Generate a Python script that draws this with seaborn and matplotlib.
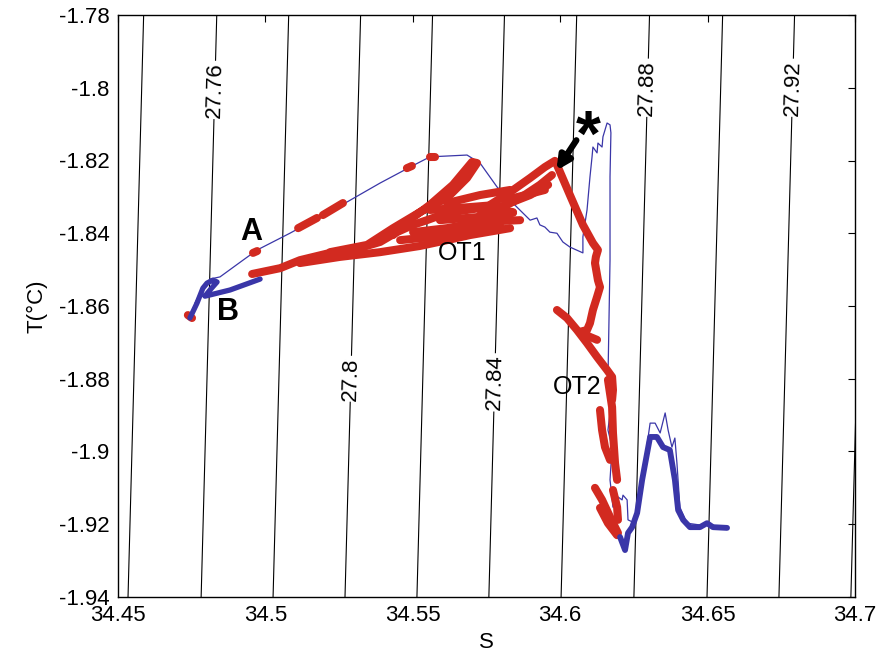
import seaborn as sns
import matplotlib.pyplot as plt
import numpy as np

# isopycnals (sigma levels) and their salinity at the bottom / top of the plot
sigma_levels = [27.74, 27.76, 27.78, 27.80, 27.82, 27.84, 27.86, 27.88, 27.90, 27.92, 27.94]
iso_s_bottom = [34.4534, 34.4782, 34.5026, 34.5270, 34.5514, 34.5758, 34.6003, 34.6250, 34.6498, 34.6742, 34.6986]
iso_s_top = [34.4587, 34.4835, 34.5079, 34.5323, 34.5567, 34.5811, 34.6056, 34.6303, 34.6551, 34.6795, 34.7039]
iso_t_range = [-1.94, -1.78]
iso_label_levels = ["27.76", "27.8", "27.84", "27.88", "27.92"]
iso_label_t = [-1.8006, -1.880, -1.881, -1.800, -1.800]

x_ticks = [34.45, 34.5, 34.55, 34.6, 34.65, 34.7]
x_ticklabels = ["34.45", "34.5", "34.55", "34.6", "34.65", "34.7"]
y_ticks = [-1.94, -1.92, -1.9, -1.88, -1.86, -1.84, -1.82, -1.8, -1.78]
y_ticklabels = ["-1.94", "-1.92", "-1.9", "-1.88", "-1.86", "-1.84", "-1.82", "-1.8", "-1.78"]

# thin blue trace
blue_thin_s = [34.4761, 34.4788, 34.4812, 34.4846, 34.4924, 34.4972, 34.5083, 34.5185, 34.5277, 34.5389,
               34.5491, 34.5558, 34.5684, 34.5728, 34.5786, 34.5853, 34.5898, 34.5921, 34.5931, 34.5948,
               34.5965, 34.5989, 34.6009, 34.6033, 34.6077, 34.6077, 34.6091, 34.6101, 34.6108, 34.6111,
               34.6125, 34.6128, 34.6142, 34.6145, 34.6152, 34.6159, 34.6169, 34.6172, 34.6169, 34.6169,
               34.6162, 34.6169, 34.6162, 34.6176, 34.6169, 34.6179, 34.6196, 34.6210, 34.6213, 34.6227,
               34.6230, 34.6254, 34.6261, 34.6281, 34.6305, 34.6322, 34.6339, 34.6356, 34.6366, 34.6379,
               34.6389, 34.6396, 34.6406, 34.6430, 34.6474, 34.6498, 34.6518, 34.6542, 34.6569]
blue_thin_t = [-1.8592, -1.8548, -1.8526, -1.8520, -1.8474, -1.8446, -1.8400, -1.8355, -1.8314, -1.8262,
               -1.8218, -1.8190, -1.8185, -1.8207, -1.8273, -1.8328, -1.8364, -1.8358, -1.8377, -1.8383,
               -1.8397, -1.8400, -1.8424, -1.8438, -1.8454, -1.8410, -1.8336, -1.8245, -1.8190, -1.8163,
               -1.8179, -1.8152, -1.8163, -1.8135, -1.8116, -1.8097, -1.8102, -1.8124, -1.8245, -1.8474,
               -1.8803, -1.8894, -1.8941, -1.8988, -1.9078, -1.9153, -1.9125, -1.9133, -1.9120, -1.9133,
               -1.9188, -1.9197, -1.9153, -1.9059, -1.8922, -1.8922, -1.8949, -1.8894, -1.8941, -1.8988,
               -1.8963, -1.9032, -1.9153, -1.9197, -1.9202, -1.9197, -1.9202, -1.9210, -1.9208]

# thick blue parts (B end and deep hump)
blue_b_s = [34.4744, 34.4768, 34.4788, 34.4802, 34.4822, 34.4836, 34.4812, 34.4795, 34.4880, 34.4982]
blue_b_t = [-1.8633, -1.8592, -1.8551, -1.8537, -1.8529, -1.8534, -1.8556, -1.8573, -1.8556, -1.8526]
blue_hump_s = [34.6203, 34.6220, 34.6230, 34.6244, 34.6261, 34.6278, 34.6305, 34.6328, 34.6349, 34.6372,
               34.6389, 34.6400, 34.6417, 34.6440, 34.6474, 34.6498, 34.6518, 34.6566]
blue_hump_t = [-1.9235, -1.9271, -1.9224, -1.9208, -1.9169, -1.9078, -1.8960, -1.8960, -1.8988, -1.8996,
               -1.9078, -1.9161, -1.9188, -1.9208, -1.9208, -1.9197, -1.9208, -1.9210]

# red (overturn) pieces
red_a1_s, red_a1_t = [34.4958, 34.4972], [-1.8454, -1.8449]
red_a2_s, red_a2_t = [34.5111, 34.5175], [-1.8386, -1.8358]
red_a3_s, red_a3_t = [34.5195, 34.5263], [-1.8350, -1.8317]
red_a4_s, red_a4_t = [34.5480, 34.5497], [-1.8221, -1.8215]
red_a5_s, red_a5_t = [34.5558, 34.5575], [-1.8190, -1.8190]
red_dot_s, red_dot_t = [34.4737, 34.4751], [-1.8625, -1.8633]

red_band1_s = [34.4955, 34.5050, 34.5117, 34.5219, 34.5297, 34.5389, 34.5446, 34.5501, 34.5548, 34.5616,
               34.5684, 34.5752, 34.5840]
red_band1_t = [-1.8512, -1.8496, -1.8474, -1.8454, -1.8446, -1.8424, -1.8397, -1.8377, -1.8364, -1.8344,
               -1.8336, -1.8328, -1.8342]
red_band2_s = [34.5117, 34.5253, 34.5389, 34.5524, 34.5616, 34.5694, 34.5830]
red_band2_t = [-1.8482, -1.8465, -1.8452, -1.8435, -1.8419, -1.8405, -1.8386]
red_peak_s = [34.5219, 34.5345, 34.5433, 34.5524, 34.5616, 34.5684, 34.5718, 34.5701, 34.5636, 34.5558,
              34.5480, 34.5433]
red_peak_t = [-1.8452, -1.8432, -1.8386, -1.8342, -1.8303, -1.8248, -1.8207, -1.8204, -1.8267, -1.8322,
              -1.8369, -1.8405]
red_ot1a_s, red_ot1a_t = [34.5558, 34.5694, 34.5786], [-1.8336, -1.8328, -1.8322]
red_ot1b_s, red_ot1b_t = [34.5592, 34.5728, 34.5840], [-1.8364, -1.8355, -1.8344]
red_ot1c_s, red_ot1c_t = [34.5616, 34.5728, 34.5830], [-1.8317, -1.8295, -1.8281]
red_ot1d_s, red_ot1d_t = [34.5501, 34.5616, 34.5728, 34.5864], [-1.8397, -1.8386, -1.8369, -1.8364]
red_ot1e_s, red_ot1e_t = [34.5457, 34.5592, 34.5694, 34.5796], [-1.8419, -1.8408, -1.8391, -1.8380]
red_c1_s = [34.5762, 34.5830, 34.5898, 34.5948, 34.5982]
red_c1_t = [-1.8322, -1.8287, -1.8248, -1.8218, -1.8201]
red_c2_s = [34.5786, 34.5864, 34.5931, 34.5972]
red_c2_t = [-1.8336, -1.8303, -1.8267, -1.8240]
red_c3_s = [34.5813, 34.5881, 34.5948]
red_c3_t = [-1.8309, -1.8295, -1.8281]
red_c4_s = [34.5728, 34.5813, 34.5898, 34.5959]
red_c4_t = [-1.8350, -1.8322, -1.8295, -1.8267]
red_down_s = [34.5989, 34.6033, 34.6077, 34.6111, 34.6128, 34.6121, 34.6118, 34.6128, 34.6135, 34.6125,
              34.6111, 34.6101, 34.6091, 34.6067, 34.6101, 34.6125]
red_down_t = [-1.8212, -1.8295, -1.8377, -1.8427, -1.8446, -1.8465, -1.8482, -1.8529, -1.8548, -1.8575,
              -1.8611, -1.8647, -1.8666, -1.8671, -1.8685, -1.8693]
red_diag_s = [34.5989, 34.6023, 34.6057, 34.6091, 34.6125, 34.6159, 34.6176, 34.6179, 34.6176]
red_diag_t = [-1.8611, -1.8633, -1.8666, -1.8702, -1.8740, -1.8776, -1.8795, -1.8831, -1.8858]
red_d1_s, red_d1_t = [34.6162, 34.6176, 34.6179, 34.6186, 34.6193], [-1.8803, -1.8878, -1.8949, -1.9032, -1.9078]
red_d2_s, red_d2_t = [34.6135, 34.6142, 34.6152, 34.6169], [-1.8886, -1.8941, -1.8988, -1.9023]
red_d3_s, red_d3_t = [34.6118, 34.6142, 34.6169, 34.6196], [-1.9100, -1.9133, -1.9180, -1.9224]
red_d4_s, red_d4_t = [34.6135, 34.6162, 34.6193], [-1.9155, -1.9197, -1.9230]
red_d5_s, red_d5_t = [34.6179, 34.6193, 34.6196], [-1.9106, -1.9153, -1.9188]

BLUE = "#3a36a8"
RED = "#d22a20"

sns.set_theme(style="white")
plt.rcParams['font.family'] = ['Liberation Sans', 'DejaVu Sans']
plt.rcParams.update({"text.color": "black", "axes.labelcolor": "black",
                     "xtick.color": "black", "ytick.color": "black"})

fig = plt.figure(figsize=(8.78, 6.53), dpi=100)
ax = fig.add_axes([118 / 878, 1 - 597 / 653, (855 - 118) / 878, (597 - 15) / 653])

# isopycnal lines
for s0, s1 in zip(iso_s_bottom, iso_s_top):
    ax.plot([s0, s1], iso_t_range, color="black", lw=0.8, zorder=1)
for lab, t in zip(iso_label_levels, iso_label_t):
    i = sigma_levels.index(float(lab))
    s = np.interp(t, iso_t_range, [iso_s_bottom[i], iso_s_top[i]])
    ax.text(s, t, lab, rotation=88.5, ha="center", va="center", fontsize=16, zorder=2,
            bbox=dict(facecolor="white", edgecolor="none", pad=1))

def trace(s, t, color, lw, z):
    sns.lineplot(x=s, y=t, sort=False, estimator=None, color=color, lw=lw, ax=ax, zorder=z,
                 solid_capstyle="round", solid_joinstyle="round")

trace(blue_thin_s, blue_thin_t, BLUE, 0.9, 3)

red_pieces = [(red_a1_s, red_a1_t), (red_a2_s, red_a2_t), (red_a3_s, red_a3_t), (red_a4_s, red_a4_t),
              (red_a5_s, red_a5_t), (red_dot_s, red_dot_t), (red_band1_s, red_band1_t),
              (red_band2_s, red_band2_t), (red_peak_s, red_peak_t), (red_ot1a_s, red_ot1a_t),
              (red_ot1b_s, red_ot1b_t), (red_ot1c_s, red_ot1c_t), (red_ot1d_s, red_ot1d_t),
              (red_ot1e_s, red_ot1e_t), (red_c1_s, red_c1_t), (red_c2_s, red_c2_t),
              (red_c3_s, red_c3_t), (red_c4_s, red_c4_t), (red_down_s, red_down_t),
              (red_diag_s, red_diag_t), (red_d1_s, red_d1_t), (red_d2_s, red_d2_t),
              (red_d3_s, red_d3_t), (red_d4_s, red_d4_t), (red_d5_s, red_d5_t)]
for s, t in red_pieces:
    trace(s, t, RED, 5.8, 4)

trace(blue_b_s, blue_b_t, BLUE, 3.8, 5)
trace(blue_hump_s, blue_hump_t, BLUE, 4.2, 5)

# annotations
ax.text(34.4951, -1.8397, "A", fontsize=22, fontweight="bold", ha="center", va="center", zorder=6)
ax.text(34.4873, -1.8617, "B", fontsize=22, fontweight="bold", ha="center", va="center", zorder=6)
ax.text(34.5667, -1.8454, "OT1", fontsize=18, ha="center", va="center", zorder=6)
ax.text(34.6057, -1.8823, "OT2", fontsize=18, ha="center", va="center", zorder=6)
ax.text(34.6094, -1.8140, "*", fontsize=46, fontweight="bold", ha="center", va="center", zorder=6)
ax.annotate("", xy=(34.5982, -1.8234), xytext=(34.6060, -1.8138), zorder=6,
            arrowprops=dict(arrowstyle="-|>", color="black", lw=4.5, mutation_scale=20))

ax.set_xlim(34.45, 34.7)
ax.set_ylim(-1.94, -1.78)
ax.set_xticks(x_ticks)
ax.set_xticklabels(x_ticklabels)
ax.set_yticks(y_ticks)
ax.set_yticklabels(y_ticklabels)
ax.tick_params(direction="in", top=True, right=True, length=5, width=0.8, color="black",
               labelsize=16, pad=6)
for sp in ax.spines.values():
    sp.set_color("black")
    sp.set_linewidth(1)
ax.set_xlabel("S", fontsize=16, labelpad=4)
ax.set_ylabel("T(°C)", fontsize=16, labelpad=8)

fig.savefig("out.png", dpi=100)
